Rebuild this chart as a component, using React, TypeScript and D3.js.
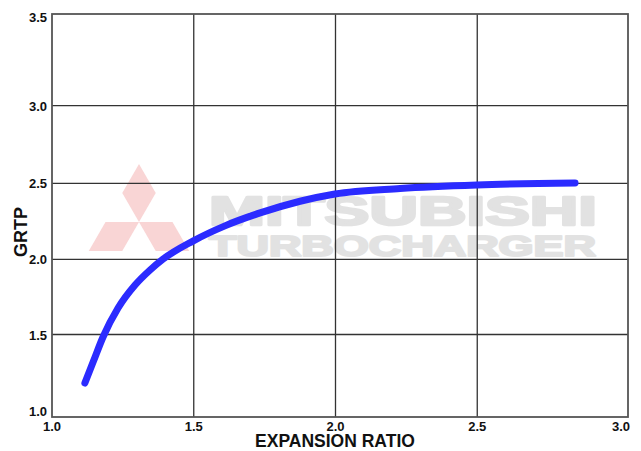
import React from "react";
import * as d3 from "d3";

const xTicks = [1.0, 1.5, 2.0, 2.5, 3.0];
const yTicks = [1.0, 1.5, 2.0, 2.5, 3.0, 3.5];
const xLabel = "EXPANSION RATIO";
const yLabel = "GRTP";
const curveX = [1.116, 1.145, 1.18, 1.233, 1.293, 1.346, 1.392, 1.497, 1.61, 1.734, 1.875, 1.998, 2.228, 2.499, 2.845];
const curveY = [1.206, 1.333, 1.485, 1.676, 1.829, 1.929, 2.002, 2.12, 2.22, 2.305, 2.382, 2.43, 2.466, 2.489, 2.502];
const watermark1 = "MITSUBISHI";
const watermark2 = "TURBOCHARGER";

const W = 641;
const H = 451;

export default function App() {
  const x = d3.scaleLinear().domain([1, 3]).range([52, 619]);
  // the printed chart has slightly uneven row spacing
  const y = d3
    .scaleLinear()
    .domain([1, 1.5, 2, 2.5, 3, 3.5])
    .range([417, 334.5, 259.3, 183.3, 105.7, 14]);

  const left = x(1);
  const right = x(3) + 9;
  const top = y(3.5);
  const bottom = y(1);

  const pts: [number, number][] = curveX.map((v, i) => [v, curveY[i]]);
  const line = d3
    .line<[number, number]>()
    .x((d) => x(d[0]))
    .y((d) => y(d[1]))
    .curve(d3.curveMonotoneX);

  // Mitsubishi three-diamond logo
  const cx = 139;
  const cy = 222;
  const L = 58;
  const hw = (L / 2) * Math.tan(Math.PI / 6);
  const rh = `M0,0 L${-hw},${-L / 2} L0,${-L} L${hw},${-L / 2} Z`;

  const font = "'Liberation Sans', Arial, Helvetica, sans-serif";

  return (
    <svg
      width={W}
      height={H}
      style={{ position: "absolute", left: 0, top: 0, background: "#fff" }}
      fontFamily={font}
    >
      <rect x={0} y={0} width={W} height={H} fill="#fff" />
      {/* watermark */}
      <g fill="#f9d5d5">
        {[0, 120, 240].map((a) => (
          <path key={a} d={rh} transform={`translate(${cx},${cy}) rotate(${a})`} />
        ))}
      </g>
      <text
        x={209}
        y={225}
        fontSize={41}
        fontWeight={900}
        fill="#e2e2e2"
        stroke="#e2e2e2"
        strokeWidth={2.5}
        strokeLinejoin="round"
        textLength={388}
        lengthAdjust="spacingAndGlyphs"
      >
        {watermark1}
      </text>
      <text
        x={209}
        y={256}
        fontSize={29}
        fontWeight={900}
        fill="#e2e2e2"
        stroke="#e2e2e2"
        strokeWidth={2}
        strokeLinejoin="round"
        textLength={387}
        lengthAdjust="spacingAndGlyphs"
      >
        {watermark2}
      </text>

      {/* grid */}
      <g stroke="#333" strokeWidth={1.3}>
        {xTicks.slice(1, -1).map((t) => (
          <line key={t} x1={x(t)} x2={x(t)} y1={top} y2={bottom} />
        ))}
        {yTicks.slice(1, -1).map((t) => (
          <line key={t} x1={left} x2={right} y1={y(t)} y2={y(t)} />
        ))}
      </g>
      <rect
        x={left}
        y={top}
        width={right - left}
        height={bottom - top}
        fill="none"
        stroke="#555"
        strokeWidth={1.8}
      />

      {/* tick labels */}
      <g fontSize={13} fontWeight="bold" fill="#111">
        {xTicks.map((t) => (
          <text key={t} x={x(t) + (t === 3 ? 2 : 0)} y={431} textAnchor="middle">
            {t.toFixed(1)}
          </text>
        ))}
        {yTicks.map((t) => (
          <text
            key={t}
            x={47}
            y={t === 1 ? 416 : t === 3.5 ? 22 : y(t) + 5}
            textAnchor="end"
          >
            {t.toFixed(1)}
          </text>
        ))}
      </g>

      {/* axis titles */}
      <text x={335} y={447} fontSize={17.5} fontWeight="bold" textAnchor="middle" fill="#111">
        {xLabel}
      </text>
      <text
        transform={`translate(27,232) rotate(-90)`}
        fontSize={18}
        fontWeight="bold"
        textAnchor="middle"
        fill="#111"
      >
        {yLabel}
      </text>

      {/* curve */}
      <path
        d={line(pts) || ""}
        fill="none"
        stroke="#2b2bff"
        strokeWidth={7}
        strokeLinecap="round"
        strokeLinejoin="round"
      />
    </svg>
  );
}
